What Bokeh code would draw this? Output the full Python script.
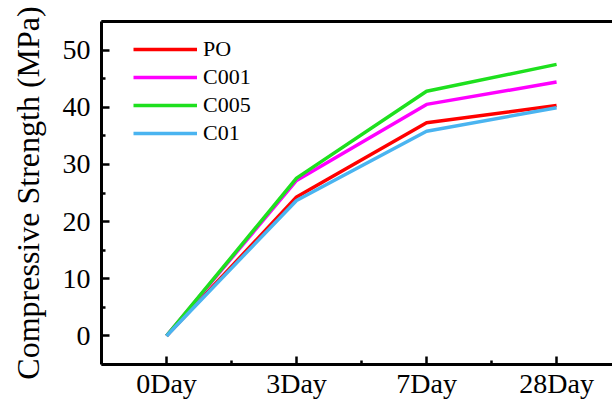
from bokeh.plotting import figure
from bokeh.models import FixedTicker, LinearAxis, Legend, LegendItem, Range1d
from bokeh.embed import file_html
from bokeh.resources import INLINE

days = ["0Day", "3Day", "7Day", "28Day"]
x_pos = [0, 1, 2, 3]
po = [0, 24.3, 37.3, 40.3]
c001 = [0, 27.2, 40.5, 44.4]
c005 = [0, 27.6, 42.8, 47.5]
c01 = [0, 23.7, 35.8, 39.9]

series = [("PO", po, "#FF0000"), ("C001", c001, "#FF00FF"),
          ("C005", c005, "#1EE01E"), ("C01", c01, "#4AB4F0")]

FONT = "Liberation Serif"

p = figure(width=612, height=402, output_backend="svg", toolbar_location=None,
           x_range=Range1d(-0.5, 3.43), y_range=Range1d(-5, 55),
           min_border_left=101, min_border_top=21, min_border_bottom=38,
           min_border_right=0, x_axis_location="below", y_axis_location="left")
p.outline_line_color = None
p.grid.visible = False
p.background_fill_color = "white"
p.border_fill_color = "white"

items = []
for name, vals, col in series:
    r = p.line(x_pos, vals, line_color=col, line_width=3.5, line_join="round")
    items.append(LegendItem(label=name, renderers=[r]))

for ax in (p.xaxis[0], p.yaxis[0]):
    ax.axis_line_width = 3
    ax.axis_line_color = "black"
    ax.major_tick_in = 8
    ax.major_tick_out = 0
    ax.minor_tick_in = 4
    ax.minor_tick_out = 0
    ax.major_tick_line_width = 2.5
    ax.minor_tick_line_width = 2.5
    ax.major_label_text_font = FONT
    ax.major_label_text_font_size = "28px"
    ax.major_label_text_color = "black"

p.xaxis[0].ticker = FixedTicker(ticks=x_pos, minor_ticks=[0.5, 1.5, 2.5])
p.xaxis[0].major_label_overrides = {i: d for i, d in zip(x_pos, days)}
p.xaxis[0].major_label_standoff = 3
p.yaxis[0].ticker = FixedTicker(ticks=[0, 10, 20, 30, 40, 50],
                                minor_ticks=[-5, 5, 15, 25, 35, 45, 55])
p.yaxis[0].major_label_standoff = 11
p.yaxis[0].axis_label = "Compressive Strength (MPa)"
p.yaxis[0].axis_label_text_font = FONT
p.yaxis[0].axis_label_text_font_style = "normal"
p.yaxis[0].axis_label_text_font_size = "32px"
p.yaxis[0].axis_label_text_color = "black"
p.yaxis[0].axis_label_standoff = 14

top = LinearAxis(ticker=FixedTicker(ticks=[]), axis_line_width=3,
                 major_tick_in=0, major_tick_out=0, minor_tick_in=0, minor_tick_out=0,
                 major_label_text_color=None)
p.add_layout(top, "above")

legend = Legend(items=items, location=(32, 217), border_line_color=None,
                background_fill_alpha=0, padding=0, margin=0, spacing=0,
                glyph_width=64, glyph_height=28, label_height=28,
                label_text_font=FONT, label_text_font_size="22px",
                label_text_color="black", label_standoff=6)
p.add_layout(legend, "center")

open("out.html", "w").write(file_html(p, INLINE))
